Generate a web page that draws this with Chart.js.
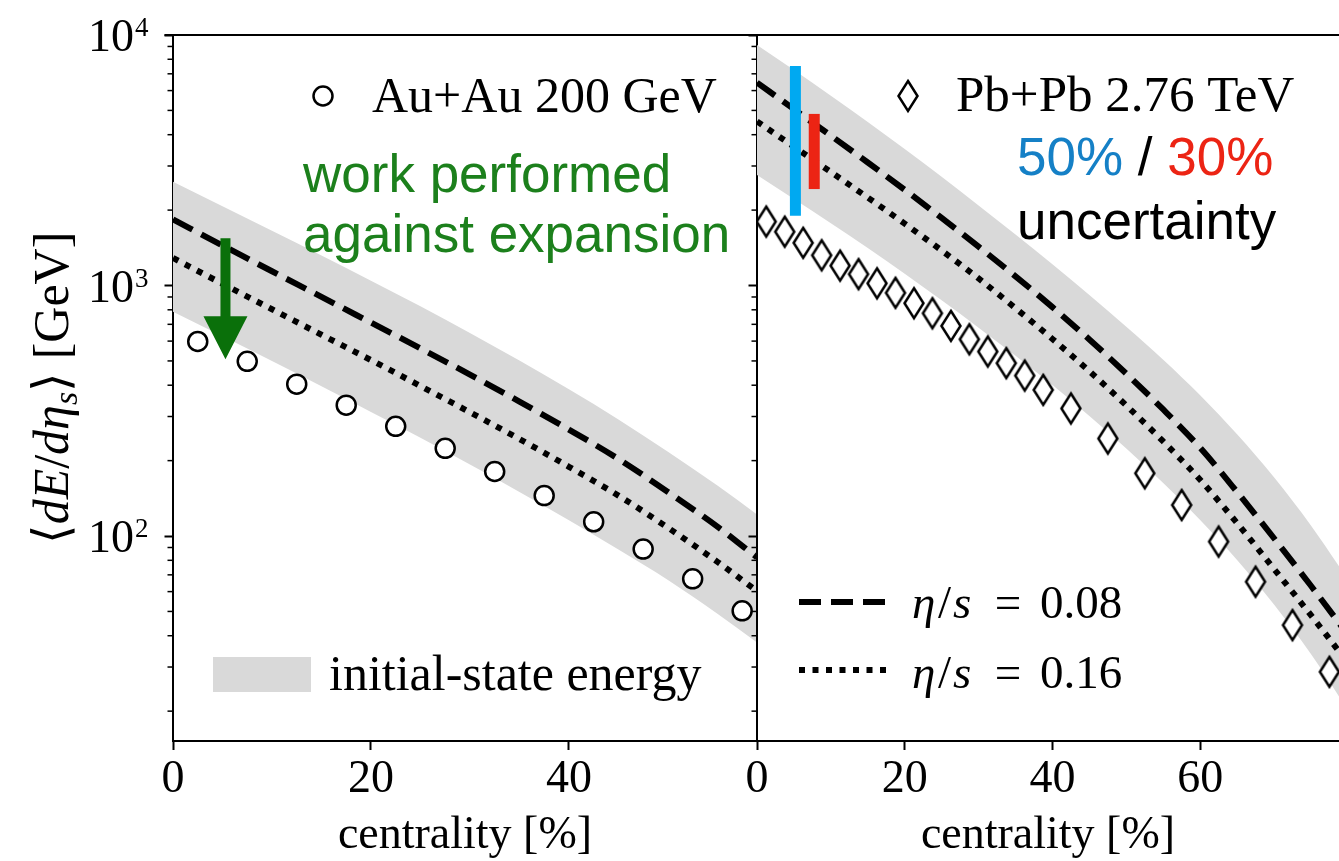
<!DOCTYPE html>
<html>
<head>
<meta charset="utf-8">
<title>dE/deta_s vs centrality</title>
<script src="https://cdn.jsdelivr.net/npm/chart.js@4.4.1/dist/chart.umd.min.js"></script>
<style>
  html, body { margin: 0; padding: 0; background: #fff; }
  #wrap { position: relative; width: 1339px; height: 861px; overflow: hidden; }
  #auau { position: absolute; left: 0; top: 0; }
  #pbpb { position: absolute; left: 740px; top: 0; }
</style>
</head>
<body>
<div id="wrap">
  <canvas id="auau" width="757" height="861"></canvas>
  <canvas id="pbpb" width="599" height="861"></canvas>
</div>
<script>
// Au+Au 200 GeV
const auauCent = [2.5, 7.5, 12.5, 17.5, 22.5, 27.5, 32.5, 37.5, 42.5, 47.5, 52.5, 57.5];
const auauData = [598, 498, 404, 333, 274, 224, 181, 145, 114, 88.7, 67.5, 50.3];
const auauModelCent = [0, 5, 10, 15, 20, 25, 30, 35, 40, 45, 50, 55, 59];
const auauVisc008 = [1837, 1445, 1140, 901, 711, 561, 441, 344, 266, 203, 150, 109, 82.2];
const auauVisc016 = [1288, 1016, 804, 636, 504, 397, 312, 244, 189, 145, 108, 78.9, 60.3];
const auauInitHi = [2594, 2073, 1654, 1317, 1046, 826, 647, 502, 385, 292, 217, 159, 122];
const auauInitLo = [785, 627, 499.5, 396, 313, 247, 193, 150, 115.6, 88.3, 66.8, 49, 37.6];

// Pb+Pb 2.76 TeV
const pbpbCent = [1.25, 3.75, 6.25, 8.75, 11.25, 13.75, 16.25, 18.75, 21.25, 23.75, 26.25, 28.75,
                  31.25, 33.75, 36.25, 38.75, 42.5, 47.5, 52.5, 57.5, 62.5, 67.5, 72.5, 77.5];
const pbpbData = [1800, 1640, 1480, 1320, 1200, 1110, 1020, 935, 850, 775, 690, 610,
                  545, 490, 437, 383, 323, 245, 178, 133, 95, 65.7, 44.1, 28.7];
const pbpbModelCent = [0, 5, 10, 15, 20, 25, 30, 35, 40, 45, 50, 55, 60, 65, 70, 75, 80];
const pbpbVisc008 = [6457, 5058, 3963, 3097, 2410, 1862, 1429, 1088, 820, 609, 445, 320, 225, 150, 98, 63.3, 40.4];
const pbpbVisc016 = [4519, 3581, 2838, 2244, 1766, 1380, 1067, 812, 612, 455, 332, 238.5, 167.7, 112.6, 73.9, 48.3, 31.2];
const pbpbInitHi = [9120, 7244, 5723, 4493, 3505, 2715, 2087, 1598, 1215, 916, 685, 506, 365, 255, 171.6, 110.2, 67.1];
const pbpbInitLo = [2761, 2213, 1773, 1411, 1114, 873, 679, 524, 400.5, 301.7, 223.6, 162.9, 116, 80.3, 53.3, 33.8, 20.2];

// uncertainty bars [centrality, low, high]
const bar50 = [5.2, 1900, 7516];
const bar30 = [7.75, 2427, 4842];
// arrow [centrality, from, to]
const arrowWork = [5.3, 1543, 508];

const yDecades = [100, 1000, 10000];
const Y_MIN = 15.2, Y_MAX = 10000;

const SERIF = '"Liberation Serif", "Times New Roman", serif';
const SANS = '"Liberation Sans", Arial, sans-serif';
const BAND = '#d9d9d9';
const GREEN = '#1c801c';
const GREEN_ARROW = '#0a700a';
const BLUE_BAR = '#00a9f1';
const BLUE_TEXT = '#1580c6';
const RED = '#ec2414';
const DASH = [22, 10], DOT = [6, 7.5], LINE_W = 6;

const pts = (xs, ys) => xs.map((x, i) => ({x: x, y: ys[i]}));

// tall open diamond used for the Pb+Pb points
function diamondImage() {
    const c = document.createElement('canvas');
    c.width = 24; c.height = 36;
    drawDiamond(c.getContext('2d'), 12, 18);
    return c;
}
function drawDiamond(g, x, y) {
    g.beginPath();
    g.moveTo(x, y - 15); g.lineTo(x + 9.5, y); g.lineTo(x, y + 15); g.lineTo(x - 9.5, y);
    g.closePath();
    g.fillStyle = '#fff'; g.fill();
    g.lineWidth = 2.5; g.strokeStyle = '#000'; g.lineJoin = 'miter'; g.stroke();
}

function modelSets(xs, v08, v16, hi, lo) {
    const common = {pointRadius: 0, cubicInterpolationMode: 'monotone'};
    return [
        {...common, data: pts(xs, hi), fill: '+1', backgroundColor: BAND, borderWidth: 0, order: 3},
        {...common, data: pts(xs, lo), fill: false, borderWidth: 0, order: 3},
        {...common, data: pts(xs, v08), fill: false, borderColor: '#000', borderWidth: LINE_W, borderDash: DASH, order: 2},
        {...common, data: pts(xs, v16), fill: false, borderColor: '#000', borderWidth: LINE_W, borderDash: DOT, order: 2}
    ];
}

function makeScales(xMax, yWidth) {
    return {
        x: {
            type: 'linear', min: 0, max: xMax,
            border: {color: '#000', width: 2},
            grid: {drawOnChartArea: false, tickLength: 9, tickWidth: 2, tickColor: '#000'},
            ticks: {stepSize: 20, includeBounds: false, color: '#000', padding: 2, maxRotation: 0,
                    font: {family: SERIF, size: 46}},
            title: {display: true, text: 'centrality [%]', color: '#000', padding: 0,
                    font: {family: SERIF, size: 46, lineHeight: 1.1}},
            afterFit(s) { s.height = 120; s.paddingLeft = 0; s.paddingRight = 0; }
        },
        y: {
            type: 'logarithmic', min: Y_MIN, max: Y_MAX,
            border: {color: '#000', width: 2},
            grid: {drawOnChartArea: false, tickLength: 8.5, tickWidth: 2, tickColor: '#000'},
            ticks: {display: false},
            afterBuildTicks(s) { s.ticks = yDecades.map(v => ({value: v, major: true})); },
            afterFit(s) { s.width = yWidth; }
        }
    };
}

// short ticks at 2..9 x 10^n on the log axis, plus the top frame line
const frame = {
    id: 'frame',
    afterDraw(chart) {
        const {ctx, chartArea: a} = chart;
        const y = chart.scales.y;
        ctx.save();
        ctx.strokeStyle = '#000';
        ctx.lineWidth = 1.5;
        for (let d = 1; d < 4; d++) {
            for (let k = 2; k < 10; k++) {
                const v = k * Math.pow(10, d);
                if (v < y.min || v > y.max) continue;
                const py = y.getPixelForValue(v);
                ctx.beginPath(); ctx.moveTo(a.left - 5.5, py); ctx.lineTo(a.left, py); ctx.stroke();
            }
        }
        ctx.lineWidth = 2;
        ctx.beginPath(); ctx.moveTo(a.left - 8.5, a.top); ctx.lineTo(a.right, a.top); ctx.stroke();
        ctx.restore();
    }
};

function text(ctx, str, x, y, font, color, align) {
    ctx.font = font;
    ctx.fillStyle = color || '#000';
    ctx.textAlign = align || 'left';
    ctx.textBaseline = 'alphabetic';
    ctx.fillText(str, x, y);
    return ctx.measureText(str).width;
}

// y tick labels (10^n) and the rotated y title
const yLabels = {
    id: 'yLabels',
    afterDraw(chart) {
        const ctx = chart.ctx, y = chart.scales.y;
        ctx.save();
        yDecades.forEach(v => {
            const py = y.getPixelForValue(v);
            text(ctx, '10', 134, py + 16, `46px ${SERIF}`, '#000', 'right');
            text(ctx, String(Math.round(Math.log10(v))), 135, py + 1, `27px ${SERIF}`, '#000', 'left');
        });
        const a = chart.chartArea;
        ctx.translate(68, (a.top + a.bottom) / 2);
        ctx.rotate(-Math.PI / 2);
        const parts = [
            ['\u27E8', `50px ${SERIF}`, 0],
            ['dE', `italic 50px ${SERIF}`, 0],
            ['/', `50px ${SERIF}`, 0],
            ['d\u03B7', `italic 50px ${SERIF}`, 0],
            ['s', `italic 34px ${SERIF}`, 9],
            ['\u27E9', `50px ${SERIF}`, 0],
            [' [GeV]', `50px ${SERIF}`, 0]
        ];
        let w = 0;
        parts.forEach(p => { ctx.font = p[1]; w += ctx.measureText(p[0]).width; });
        let x = -w / 2;
        parts.forEach(p => { x += text(ctx, p[0], x, p[2], p[1], '#000', 'left'); });
        ctx.restore();
    }
};

const auauNotes = {
    id: 'auauNotes',
    afterDatasetsDraw(chart) {
        const ctx = chart.ctx, xs = chart.scales.x, ys = chart.scales.y;
        ctx.save();
        // arrow: work performed against expansion
        const ax = xs.getPixelForValue(arrowWork[0]);
        const yTop = ys.getPixelForValue(arrowWork[1]);
        const yTip = ys.getPixelForValue(arrowWork[2]);
        const head = 43, half = 22, shaft = 5;
        ctx.fillStyle = GREEN_ARROW;
        ctx.beginPath();
        ctx.moveTo(ax - shaft, yTop); ctx.lineTo(ax + shaft, yTop);
        ctx.lineTo(ax + shaft, yTip - head); ctx.lineTo(ax + half, yTip - head);
        ctx.lineTo(ax, yTip);
        ctx.lineTo(ax - half, yTip - head); ctx.lineTo(ax - shaft, yTip - head);
        ctx.closePath(); ctx.fill();

        text(ctx, 'work performed', 303, 192, `53px ${SANS}`, GREEN);
        text(ctx, 'against expansion', 303, 252, `53px ${SANS}`, GREEN);

        // legend
        ctx.beginPath(); ctx.arc(323, 96, 9.5, 0, Math.PI * 2);
        ctx.fillStyle = '#fff'; ctx.fill();
        ctx.lineWidth = 2.5; ctx.strokeStyle = '#000'; ctx.stroke();
        text(ctx, 'Au+Au 200 GeV', 372, 112, `50px ${SERIF}`);

        ctx.fillStyle = BAND;
        ctx.fillRect(213, 657, 98, 35);
        text(ctx, 'initial-state energy', 329, 690, `50px ${SERIF}`);
        ctx.restore();
    }
};

const OFF = 740;   // left edge of the Pb+Pb canvas on the page
const pbpbNotes = {
    id: 'pbpbNotes',
    afterDatasetsDraw(chart) {
        const ctx = chart.ctx;
        ctx.save();
        drawDiamond(ctx, 908 - OFF, 96);
        text(ctx, 'Pb+Pb 2.76 TeV', 956 - OFF, 111, `51px ${SERIF}`);

        let x = 1017 - OFF;
        x += text(ctx, '50%', x, 175, `53px ${SANS}`, BLUE_TEXT);
        x += text(ctx, ' / ', x, 175, `53px ${SANS}`, '#000');
        text(ctx, '30%', x, 175, `53px ${SANS}`, RED);
        text(ctx, 'uncertainty', 1017 - OFF, 239, `53px ${SANS}`, '#000');

        // line samples
        ctx.strokeStyle = '#000'; ctx.lineWidth = LINE_W; ctx.lineCap = 'butt';
        [[602, DASH], [670, DOT]].forEach(s => {
            ctx.setLineDash(s[1]);
            ctx.beginPath(); ctx.moveTo(799 - OFF, s[0]); ctx.lineTo(886 - OFF, s[0]); ctx.stroke();
        });
        ctx.setLineDash([]);
        [[618, '0.08'], [688, '0.16']].forEach(r => {
            const y = r[0];
            text(ctx, '\u03B7', 912 - OFF, y, `italic 47px ${SERIF}`);
            text(ctx, '/', 938 - OFF, y, `47px ${SERIF}`);
            text(ctx, 's', 953 - OFF, y, `italic 47px ${SERIF}`);
            text(ctx, '=', 1008 - OFF, y, `47px ${SERIF}`, '#000', 'center');
            text(ctx, r[1], 1040 - OFF, y, `47px ${SERIF}`);
        });
        ctx.restore();
    }
};

const baseOptions = {
    responsive: false,
    animation: false,
    events: [],
    layout: {autoPadding: false, padding: {top: 35, left: 0, right: 0, bottom: 0}},
    plugins: {legend: {display: false}, tooltip: {enabled: false}}
};

new Chart(document.getElementById('auau'), {
    type: 'line',
    data: {
        datasets: [
            ...modelSets(auauModelCent, auauVisc008, auauVisc016, auauInitHi, auauInitLo),
            {data: pts(auauCent, auauData), showLine: false, pointStyle: 'circle', pointRadius: 9.5,
             pointBorderWidth: 2.5, pointBorderColor: '#000', pointBackgroundColor: '#fff', order: 1}
        ]
    },
    options: {...baseOptions, scales: makeScales(59, 173)},
    plugins: [frame, yLabels, auauNotes]
});

const barSet = (b, color) => ({
    data: [{x: b[0], y: b[1]}, {x: b[0], y: b[2]}],
    borderColor: color, borderWidth: 11, borderCapStyle: 'butt', pointRadius: 0, fill: false, order: 0
});

new Chart(document.getElementById('pbpb'), {
    type: 'line',
    data: {
        datasets: [
            ...modelSets(pbpbModelCent, pbpbVisc008, pbpbVisc016, pbpbInitHi, pbpbInitLo),
            {data: pts(pbpbCent, pbpbData), showLine: false, pointStyle: diamondImage(), pointRadius: 12, order: 1},
            barSet(bar50, BLUE_BAR),
            barSet(bar30, RED)
        ]
    },
    options: {...baseOptions, scales: makeScales(78.8, 17)},
    plugins: [frame, pbpbNotes]
});
</script>
</body>
</html>
